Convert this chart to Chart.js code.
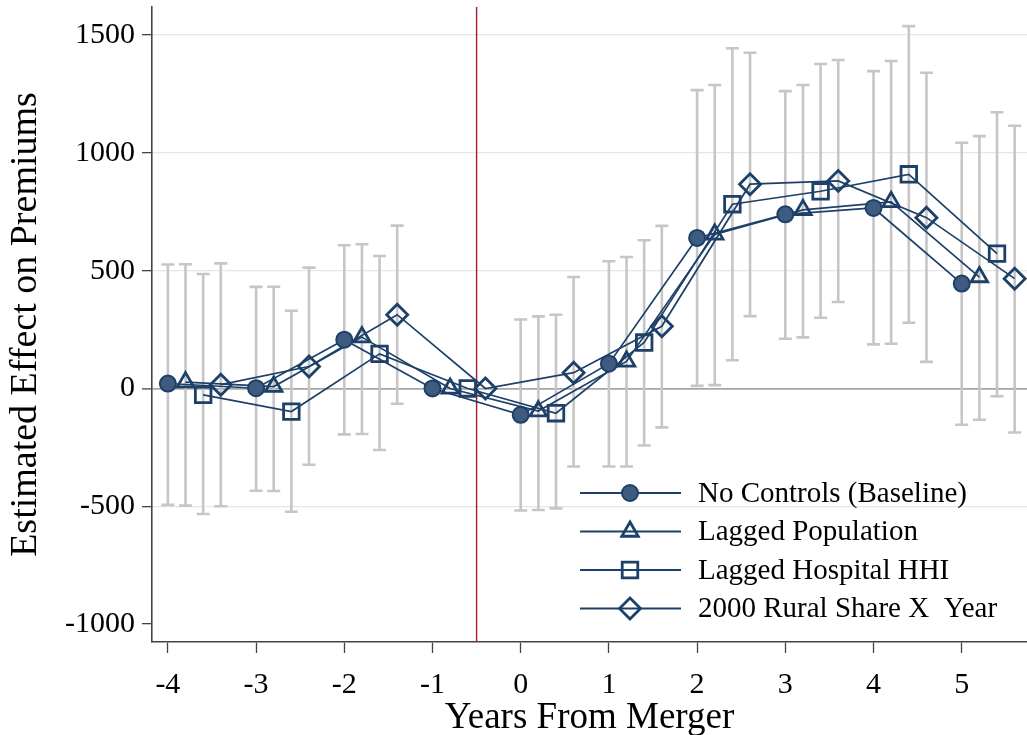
<!DOCTYPE html>
<html>
<head>
<meta charset="utf-8">
<script src="https://cdn.jsdelivr.net/npm/chart.js@4.4.0/dist/chart.umd.min.js"></script>
<style>
  html, body { margin: 0; padding: 0; background: #fff; }
  #wrap { width: 1027px; height: 735px; position: relative; }
</style>
</head>
<body>
<div id="wrap"><canvas id="chart"></canvas></div>
<script>
// years relative to merger, each model is shifted a bit to the right
const years = [-4, -3, -2, -1, 0, 1, 2, 3, 4, 5];
const xTicks = [-4, -3, -2, -1, 0, 1, 2, 3, 4, 5];
const yTicks = [-1000, -500, 0, 500, 1000, 1500];

const labels = ['No Controls (Baseline)', 'Lagged Population', 'Lagged Hospital HHI', '2000 Rural Share X  Year'];

const baseline = [21, 1, 207, 0, -112, 105, 639, 739, 766, 445];
const baselineLo = [-494, -434, -195, null, -518, -331, 11, 211, 187, -154];
const baselineHi = [526, 431, 608, null, 293, 540, 1266, 1262, 1347, 1043];

const population = [27, 8, 218, 0, -96, 115, 654, 758, 792, 473];
const populationLo = [-497, -435, -193, null, -516, -331, 14, 217, 190, -133];
const populationHi = [527, 432, 612, null, 306, 558, 1288, 1288, 1390, 1071];

const hhi = [-27, -98, 147, 0, -105, 195, 782, 837, 909, 572];
const hhiLo = [-533, -523, -261, null, -509, -242, 120, 300, 279, -33];
const hhiHi = [486, 330, 562, null, 313, 629, 1444, 1377, 1538, 1172];

const rural = [16, 93, 313, 0, 67, 264, 867, 881, 725, 466];
const ruralLo = [-500, -324, -65, null, -331, -165, 307, 367, 113, -187];
const ruralHi = [531, 513, 691, null, 473, 690, 1425, 1394, 1340, 1115];

const mergerLine = -0.5;

const navy = '#1d4068';
const serif = '"Liberation Serif", "DejaVu Serif", serif';

function makeSet(label, vals, lo, hi, shift, style, radius, fill) {
    return {
        label,
        data: years.map((y, i) => ({ x: y + shift, y: vals[i] })),
        lo: lo.map((v, i) => v === null ? null : { x: years[i] + shift, y: v }),
        hi: hi.map((v, i) => v === null ? null : { x: years[i] + shift, y: v }),
        borderColor: navy,
        borderWidth: 1.7,
        showLine: true,
        tension: 0,
        pointStyle: style,
        pointRadius: radius,
        pointHoverRadius: radius,
        pointBorderWidth: fill ? 2 : 2.8,
        pointBorderColor: navy,
        pointBackgroundColor: fill ? '#3f5b80' : 'rgba(0,0,0,0)',
    };
}

const datasets = [
    makeSet(labels[0], baseline, baselineLo, baselineHi, 0, 'circle', 8, true),
    makeSet(labels[1], population, populationLo, populationHi, 0.2, 'triangle', 9.5, false),
    makeSet(labels[2], hhi, hhiLo, hhiHi, 0.4, 'rect', 11, false),
    makeSet(labels[3], rural, ruralLo, ruralHi, 0.6, 'rectRot', 10.5, false),
];

// gray CI bars + vertical merger line, under the series
const errorBars = {
    id: 'errorBars',
    beforeDatasetsDraw(chart) {
        const ctx = chart.ctx;
        const xs = chart.scales.x;
        const ys = chart.scales.y;
        const area = chart.chartArea;
        ctx.save();
        ctx.strokeStyle = '#c6c6c6';
        ctx.lineWidth = 2.6;
        chart.data.datasets.forEach(ds => {
            ds.lo.forEach((p, i) => {
                if (!p) return;
                const px = xs.getPixelForValue(p.x);
                const top = ys.getPixelForValue(ds.hi[i].y);
                const bot = ys.getPixelForValue(p.y);
                ctx.beginPath();
                ctx.moveTo(px, top); ctx.lineTo(px, bot);
                ctx.moveTo(px - 6.5, top); ctx.lineTo(px + 6.5, top);
                ctx.moveTo(px - 6.5, bot); ctx.lineTo(px + 6.5, bot);
                ctx.stroke();
            });
        });
        const mx = xs.getPixelForValue(mergerLine);
        ctx.strokeStyle = '#a8243a';
        ctx.lineWidth = 1.5;
        ctx.beginPath();
        ctx.moveTo(mx, area.top);
        ctx.lineTo(mx, area.bottom);
        ctx.stroke();
        ctx.restore();
    }
};

// legend sits inside the plot, lower right
const boxLegend = {
    id: 'boxLegend',
    afterDraw(chart) {
        const ctx = chart.ctx;
        const area = chart.chartArea;
        const x0 = area.left + 428;
        const y0 = area.top + 486;
        ctx.save();
        chart.data.datasets.forEach((ds, i) => {
            const y = y0 + i * 38.5;
            ctx.strokeStyle = navy;
            ctx.lineWidth = 2;
            ctx.beginPath();
            ctx.moveTo(x0, y);
            ctx.lineTo(x0 + 101, y);
            ctx.stroke();
            ctx.fillStyle = ds.pointBackgroundColor;
            ctx.strokeStyle = ds.pointBorderColor;
            ctx.lineWidth = ds.pointBorderWidth;
            Chart.helpers.drawPoint(ctx, {
                pointStyle: ds.pointStyle,
                radius: ds.pointRadius,
                borderWidth: ds.pointBorderWidth,
                rotation: 0
            }, x0 + 50, y);
            ctx.fillStyle = '#000';
            ctx.font = '29px ' + serif;
            ctx.textBaseline = 'middle';
            ctx.fillText(ds.label, x0 + 118, y + 1);
        });
        ctx.restore();
    }
};

new Chart(document.getElementById('chart'), {
    type: 'line',
    data: { datasets },
    options: {
        responsive: true,
        maintainAspectRatio: false,
        animation: false,
        layout: { autoPadding: false, padding: { top: 7, right: 0, left: 0, bottom: 0 } },
        plugins: {
            legend: { display: false },
            tooltip: { enabled: false },
        },
        scales: {
            x: {
                type: 'linear',
                min: -4.18,
                max: 5.74,
                afterBuildTicks: scale => { scale.ticks = xTicks.map(v => ({ value: v })); },
                afterFit: scale => {
                    scale.height = 93;
                    scale.paddingLeft = 0;
                    scale.paddingRight = 0;
                },
                grid: {
                    drawOnChartArea: false,
                    tickLength: 11,
                    tickColor: '#444',
                    tickWidth: 1.3,
                },
                border: { color: '#444', width: 1.6 },
                ticks: {
                    color: '#000',
                    padding: 14,
                    font: { family: serif, size: 30 },
                    callback: v => String(v),
                },
                title: {
                    display: true,
                    text: 'Years From Merger',
                    color: '#000',
                    padding: { top: 0, bottom: -5 },
                    font: { family: serif, size: 37 },
                },
            },
            y: {
                min: -1076,
                max: 1619,
                afterBuildTicks: scale => { scale.ticks = yTicks.map(v => ({ value: v })); },
                afterFit: scale => {
                    scale.width = 152;
                    scale.paddingTop = 0;
                    scale.paddingBottom = 0;
                },
                grid: {
                    color: c => c.tick && c.tick.value === 0 ? '#a6a6a6' : (c.tick && c.tick.value === -1000 ? 'rgba(0,0,0,0)' : '#e6e6e6'),
                    lineWidth: c => c.tick && c.tick.value === 0 ? 1.8 : 1.3,
                    tickLength: 10,
                    tickColor: '#444',
                    tickWidth: 1.3,
                },
                border: { color: '#444', width: 1.6 },
                ticks: {
                    color: '#000',
                    padding: 7,
                    font: { family: serif, size: 30 },
                    callback: v => String(v),
                },
                title: {
                    display: true,
                    text: 'Estimated Effect on Premiums',
                    color: '#000',
                    padding: { top: 3, bottom: 0 },
                    font: { family: serif, size: 38 },
                },
            },
        },
    },
    plugins: [errorBars, boxLegend],
});
</script>
</body>
</html>
